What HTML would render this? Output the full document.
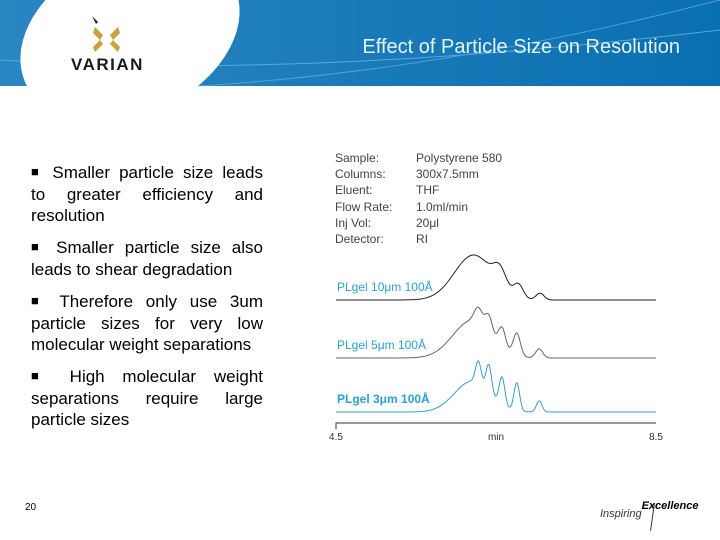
<!DOCTYPE html>
<html><head><meta charset="utf-8"><style>
body{margin:0;width:720px;height:540px;overflow:hidden;background:#fff;font-family:"Liberation Sans",sans-serif;position:relative}
.p{position:absolute;left:31px;width:232px;font-size:17px;line-height:21.5px;color:#000}
.p div{text-align:justify;text-align-last:justify;white-space:nowrap}
.p div.l{text-align-last:left}
.p b{font-weight:normal;font-size:13px;vertical-align:2px}
.meta{position:absolute;left:335px;top:150px;font-size:12px;color:#444;line-height:16.2px}
.meta span{display:inline-block;width:81px}
</style></head><body>
<svg width="720" height="86" style="position:absolute;left:0;top:0">
<defs><linearGradient id="g" x1="0" x2="1"><stop offset="0" stop-color="#2a86c2"/><stop offset="1" stop-color="#0a6fb0"/></linearGradient></defs>
<rect width="720" height="86" fill="url(#g)"/>
<path d="M0 60 Q300 80 720 30" stroke="#5aa9d8" fill="none" stroke-width="1"/>
<path d="M200 86 Q450 70 720 0" stroke="#4fa0d4" fill="none" stroke-width="1"/>
<ellipse cx="130" cy="35" rx="115" ry="80" transform="rotate(-25 130 35)" fill="#fff"/>
<g fill="#c9a13a">
<polygon points="95,27 103,35 100,40 93,33"/><polygon points="118,27 110,35 113,40 120,33"/>
<polygon points="95,52 103,44 100,40 93,47"/><polygon points="118,52 110,44 113,40 120,47"/>
<polygon points="92,16 98,22 96,24" fill="#222"/></g>
<text x="71" y="70" font-size="17" font-weight="bold" letter-spacing="1.5" fill="#1a1a1a" font-family="Liberation Sans">VARIAN</text>
<text x="680" y="53" text-anchor="end" font-size="20" fill="#e4f4fa" font-family="Liberation Sans">Effect of Particle Size on Resolution</text>
</svg>
<div class="p" style="top:161px"><div><b>■</b> Smaller particle size leads</div><div>to greater efficiency and</div><div class="l">resolution</div></div>
<div class="p" style="top:236px"><div><b>■</b> Smaller particle size also</div><div class="l">leads to shear degradation</div></div>
<div class="p" style="top:290px"><div><b>■</b> Therefore only use 3um</div><div>particle sizes for very low</div><div class="l">molecular weight separations</div></div>
<div class="p" style="top:365px"><div><b>■</b> High molecular weight</div><div>separations require large</div><div class="l">particle sizes</div></div>
<div class="meta">
<div><span>Sample:</span>Polystyrene 580</div><div><span>Columns:</span>300x7.5mm</div><div><span>Eluent:</span>THF</div><div><span>Flow Rate:</span>1.0ml/min</div><div><span>Inj Vol:</span>20μl</div><div><span>Detector:</span>RI</div></div>
<svg id="chart" width="720" height="540" style="position:absolute;left:0;top:0;pointer-events:none"></svg>
<div style="position:absolute;left:25px;top:502px;font-size:10px">20</div>
<div style="position:absolute;left:600px;top:508px;font-size:11px;font-style:italic;color:#333">Inspiring<span style="font-weight:bold;color:#000;position:relative;top:-8px">Excellence</span></div>
<div style="position:absolute;left:652px;top:503px;width:1px;height:28px;background:#333;transform:rotate(8deg)"></div>
<script>
const seriesNames=["PLgel 10μm 100Å","PLgel 5μm 100Å","PLgel 3μm 100Å"];
const peakTimes10=[6.22,6.55,6.78,7.05];const peakHeights10=[1.0,0.4,0.3,0.15];const peakWidths10=[0.24,0.08,0.06,0.05];
const peakTimes5=[6.2,6.28,6.41,6.575,6.76,7.04];const peakHeights5=[0.75,0.3,0.35,0.4,0.45,0.18];const peakWidths5=[0.24,0.05,0.045,0.045,0.045,0.045];
const peakTimes3=[6.2,6.28,6.41,6.575,6.76,7.04];const peakHeights3=[0.55,0.4,0.5,0.5,0.5,0.2];const peakWidths3=[0.22,0.035,0.035,0.035,0.035,0.035];
const baselines=[300,358,412];const scales=[45,50,56];
const xTicks=["4.5","min","8.5"];
const svg=document.getElementById('chart');const NS="http://www.w3.org/2000/svg";
const x=t=>336+(t-4.5)/4*320;
function mk(tag,a){const e=document.createElementNS(NS,tag);for(const k in a)e.setAttribute(k,a[k]);svg.appendChild(e);return e;}
const sets=[[peakTimes10,peakHeights10,peakWidths10,"#222"],[peakTimes5,peakHeights5,peakWidths5,"#666"],[peakTimes3,peakHeights3,peakWidths3,"#3a9cc8"]];
sets.forEach((s,i)=>{let d="";for(let t=4.5;t<=8.5001;t+=0.01){let v=0;for(let j=0;j<s[0].length;j++)v+=s[1][j]*Math.exp(-Math.pow((t-s[0][j])/s[2][j],2)/2);
d+=(d?"L":"M")+x(t).toFixed(1)+" "+(baselines[i]-v*scales[i]).toFixed(1);}
const p=mk('path',{d:d,fill:"none",stroke:s[3],"stroke-width":"1"});


const l=mk('text',{x:337,y:baselines[i]-9,"font-size":12,fill:"#2ea0cf","font-family":"Liberation Sans","font-weight":i==2?"bold":"normal"});l.textContent=seriesNames[i];

});
const ax=mk('path',{d:"M336 429V423H656",stroke:"#333",fill:"none"});


const tx=[336,496,656];
xTicks.forEach((s,i)=>{const t=mk('text',{x:tx[i],y:440,"font-size":10,"text-anchor":"middle",fill:"#333","font-family":"Liberation Sans"});t.textContent=s;

});
</script>
</body></html>
